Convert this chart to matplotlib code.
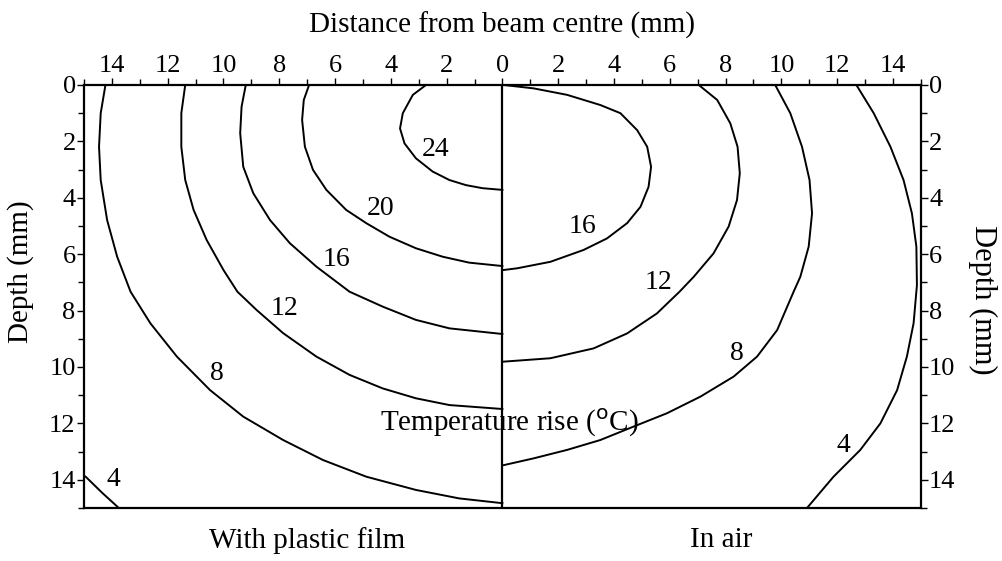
import numpy as np
import matplotlib.pyplot as plt

plt.rcParams['font.family'] = ['Liberation Serif', 'DejaVu Serif']

# digitised contour lines: distance from beam centre (mm), depth (mm)
# left half: with plastic film
film_24_x = [2.74, 3.21, 3.57, 3.67, 3.51, 3.1, 2.5, 1.9, 1.31, 0.71, 0.0]
film_24_y = [0.0, 0.35, 1.0, 1.54, 2.07, 2.6, 3.07, 3.37, 3.55, 3.66, 3.72]
film_20_x = [6.93, 7.12, 7.18, 7.08, 6.79, 6.31, 5.6, 4.88, 4.05, 3.1, 2.14, 1.19, 0.0]
film_20_y = [0.0, 0.53, 1.24, 2.19, 3.01, 3.72, 4.43, 4.9, 5.38, 5.79, 6.09, 6.3, 6.42]
film_16_x = [9.2, 9.35, 9.4, 9.29, 8.93, 8.33, 7.62, 6.67, 5.48, 4.29, 3.1, 1.9, 0.0]
film_16_y = [0.0, 0.77, 1.71, 2.9, 3.84, 4.79, 5.61, 6.44, 7.33, 7.86, 8.33, 8.63, 8.83]
film_12_x = [11.37, 11.51, 11.51, 11.37, 11.07, 10.6, 10.0, 9.5, 8.81, 7.86, 6.67,
             5.48, 4.29, 3.1, 1.9, 0.0]
film_12_y = [0.0, 1.0, 2.19, 3.37, 4.43, 5.5, 6.56, 7.33, 7.98, 8.8, 9.63,
             10.28, 10.76, 11.11, 11.35, 11.49]
film_8_x = [14.23, 14.4, 14.46, 14.4, 14.17, 13.81, 13.33, 12.62, 11.67, 10.48, 9.29,
            7.86, 6.43, 4.88, 3.1, 1.55, 0.0]
film_8_y = [0.0, 1.0, 2.19, 3.37, 4.79, 6.09, 7.33, 8.45, 9.63, 10.82, 11.76,
            12.59, 13.3, 13.89, 14.36, 14.66, 14.83]
film_4_x = [14.94, 14.35, 13.75]
film_4_y = [13.89, 14.46, 15.0]

# right half: in air
air_16_x = [0.05, 1.12, 2.32, 3.51, 4.23, 4.83, 5.19, 5.33, 5.24, 4.95, 4.47, 3.75,
            2.91, 1.72, 0.53, 0.05]
air_16_y = [0.0, 0.12, 0.35, 0.71, 1.0, 1.6, 2.19, 2.9, 3.61, 4.32, 4.9, 5.44,
            5.85, 6.27, 6.5, 6.56]
air_12_x = [7.04, 7.7, 8.17, 8.43, 8.51, 8.41, 8.11, 7.57, 6.86, 6.35, 5.54, 4.47,
            3.27, 1.72, 0.05]
air_12_y = [0.0, 0.53, 1.36, 2.19, 3.13, 4.08, 5.02, 5.97, 6.8, 7.33, 8.1, 8.81,
            9.34, 9.69, 9.81]
air_8_x = [9.78, 10.32, 10.74, 11.01, 11.1, 10.98, 10.68, 10.44, 9.85, 9.13, 8.29,
           7.1, 5.9, 4.71, 3.51, 2.32, 1.12, 0.05]
air_8_y = [0.0, 1.0, 2.19, 3.37, 4.55, 5.73, 6.8, 7.33, 8.69, 9.63, 10.34,
           11.05, 11.64, 12.11, 12.59, 12.94, 13.24, 13.48]
air_4_x = [12.69, 13.31, 13.91, 14.38, 14.68, 14.84, 14.86, 14.74, 14.5, 14.15,
           13.55, 12.83, 11.87, 10.92]
air_4_y = [0.0, 1.0, 2.19, 3.37, 4.55, 5.73, 7.1, 8.45, 9.63, 10.82,
           12.0, 12.94, 13.89, 15.0]

# contour labels: text, distance, depth (film side distances are negative)
label_text = ['24', '20', '16', '12', '8', '4', '16', '12', '8', '4']
label_x = [-2.38, -4.35, -5.95, -7.8, -10.24, -13.93, 2.86, 5.6, 8.41, 12.21]
label_y = [2.3, 4.37, 6.2, 7.92, 10.22, 14.0, 5.02, 7.0, 9.51, 12.77]

fig = plt.figure(figsize=(10.02, 5.61), dpi=100)
ax = fig.add_axes([0.0838, 0.0945, 0.8352, 0.754])

lw = 1.4
film = [(film_24_x, film_24_y), (film_20_x, film_20_y), (film_16_x, film_16_y),
        (film_12_x, film_12_y), (film_8_x, film_8_y), (film_4_x, film_4_y)]
air = [(air_16_x, air_16_y), (air_12_x, air_12_y), (air_8_x, air_8_y), (air_4_x, air_4_y)]
for x, y in film:
    ax.plot(-np.array(x), y, color='black', lw=lw, solid_joinstyle='round')
for x, y in air:
    ax.plot(x, y, color='black', lw=lw, solid_joinstyle='round')
ax.axvline(0, color='black', lw=1.6)

for t, x, y in zip(label_text, label_x, label_y):
    ax.text(x, y, t, fontsize=20, ha='center', va='center')

ax.text(0.25, 12.0, 'Temperature rise ($^{\\mathrm{o}}$C)', fontsize=21,
        ha='center', va='center')

ax.set_xlim(-15, 15)
ax.set_ylim(15, 0)

major_x = np.arange(-14, 15, 2)
ax.set_xticks(major_x)
ax.set_xticklabels([str(abs(v)) for v in major_x])
ax.set_xticks(np.arange(-15, 16, 1), minor=True)
ax.set_yticks(np.arange(0, 15, 2))
ax.set_yticks(np.arange(0, 16, 1), minor=True)

ax.tick_params(axis='both', which='both', direction='out', top=True, labeltop=True,
               bottom=False, labelbottom=False, left=True, right=True,
               labelright=True, labelsize=19, width=1.0, pad=1)
ax.tick_params(axis='both', which='major', length=5)
ax.tick_params(axis='both', which='minor', length=4)

for s in ax.spines.values():
    s.set_linewidth(1.6)

ax.xaxis.set_label_position('top')
ax.set_xlabel('Distance from beam centre (mm)', fontsize=21, labelpad=16)
fig.text(0.02, 0.515, 'Depth (mm)', fontsize=21, rotation=90, ha='center', va='center')
fig.text(0.981, 0.465, 'Depth (mm)', fontsize=22, rotation=270, ha='center', va='center')

fig.text(0.306, 0.037, 'With plastic film', fontsize=21, ha='center', va='center')
fig.text(0.72, 0.037, 'In air', fontsize=21, ha='center', va='center')

fig.savefig('out.png', dpi=100)
